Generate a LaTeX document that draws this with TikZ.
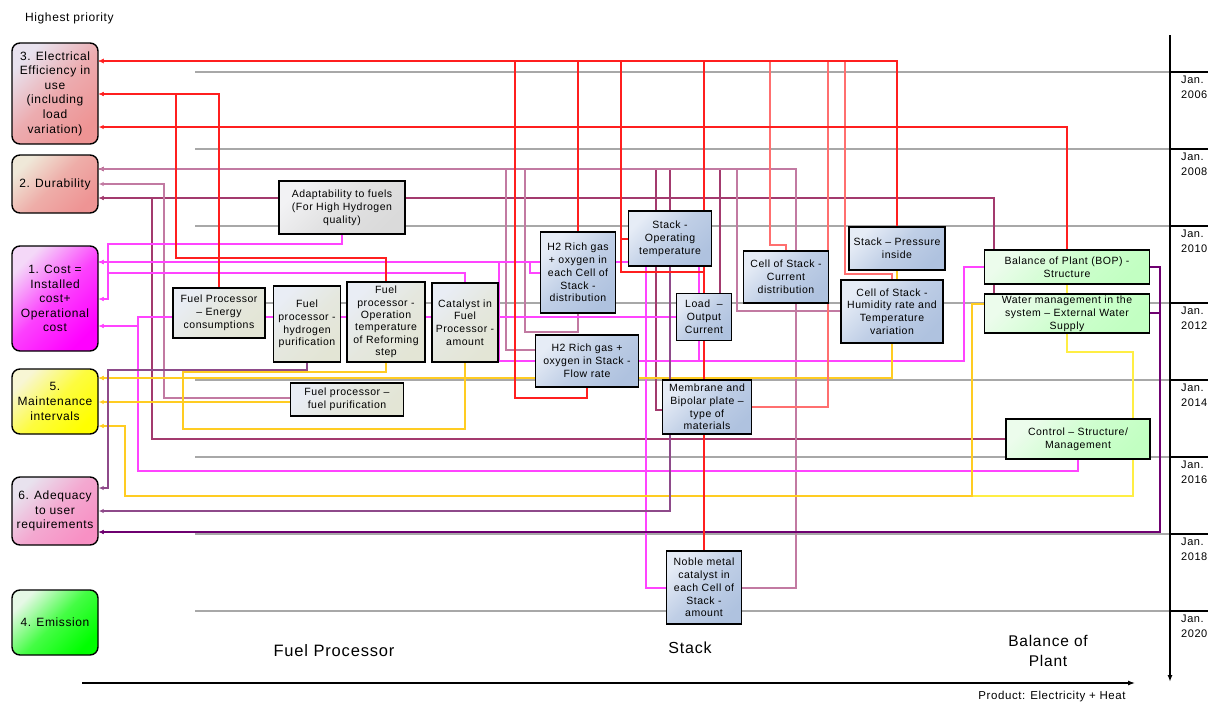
\documentclass[tikz,border=0pt]{standalone}
\usepackage{fontspec}
\setmainfont{Liberation Sans}[LetterSpace=5]
\usepackage{tikz}
\usetikzlibrary{arrows.meta}

\definecolor{redc}{HTML}{FF1F1F}
\definecolor{redlt}{HTML}{FF6F6F}
\definecolor{mauvec}{HTML}{A33A6E}
\definecolor{mauvelt}{HTML}{C27AA2}
\definecolor{magc}{HTML}{FF44FF}
\definecolor{yelc}{HTML}{FFCC22}
\definecolor{yellt}{HTML}{FFEE44}
\definecolor{purpc}{HTML}{6E0070}
\definecolor{purpm}{HTML}{8E4A8A}
\definecolor{gridc}{HTML}{A8A8A8}

\definecolor{fptop}{HTML}{E9EDF5}
\definecolor{fpbot}{HTML}{E3E5D5}
\definecolor{adtop}{HTML}{F2F2F4}
\definecolor{adbot}{HTML}{DADADA}
\definecolor{sttop}{HTML}{E6ECF6}
\definecolor{stbot}{HTML}{AFC2DF}
\definecolor{boptop}{HTML}{ECFCEC}
\definecolor{bopbot}{HTML}{C2FFC2}
\definecolor{efftop}{HTML}{E8E2EE}
\definecolor{effbot}{HTML}{EE9494}
\definecolor{durtop}{HTML}{EFE8D8}
\definecolor{costtop}{HTML}{F4D8F8}
\definecolor{costbot}{HTML}{FF00FF}
\definecolor{mnttop}{HTML}{F8F6D4}
\definecolor{mntbot}{HTML}{FFFF00}
\definecolor{adebot}{HTML}{F890C4}
\definecolor{emitop}{HTML}{E6F8E6}
\definecolor{emibot}{HTML}{00FF00}

\pgfdeclarelayer{bg}
\pgfsetlayers{bg,main}

\tikzset{
	prio/.style={draw, line width=1.4pt, rounded corners=8pt, minimum width=86pt, align=center, inner sep=1pt, font=\fontsize{12}{14.6}\selectfont},
	part/.style={draw, line width=1.8pt, align=center, inner sep=1pt, font=\fontsize{10.5}{12.8}\selectfont},
	dims/.style 2 args={minimum width=#1, minimum height=#2},
	tint/.style 2 args={top color=#1, bottom color=#2, middle color=#2!70!#1, shading angle=45},
	fpbox/.style={part, tint={fptop}{fpbot}},
	adbox/.style={part, tint={adtop}{adbot}},
	stbox/.style={part, tint={sttop}{stbot}},
	bopbox/.style={part, tint={boptop}{bopbot}},
	link/.style={line width=1.3pt, -{Latex[length=5pt,width=4.5pt]}},
	plain/.style={line width=1.3pt},
	grid/.style={gridc, line width=1.3pt},
	yearlab/.style={anchor=north west, align=left, inner sep=0pt, font=\fontsize{11}{14.5}\selectfont},
}

\begin{document}
\begin{tikzpicture}[x=1pt, y=-1pt]
	\useasboundingbox (0,0) rectangle (1208,702);

	\node[anchor=west, inner sep=0pt, font=\fontsize{12}{13}\selectfont] (hp) at (25,18) {Highest priority};

	% priorities
	\node[prio, dims={86pt}{101pt}, tint={efftop}{effbot}] (eff) at (55,93.5) {3. Electrical\\Efficiency in\\use\\(including\\load\\variation)};
	\node[prio, dims={86pt}{58pt}, tint={durtop}{effbot}] (dur) at (55,184) {2. Durability};
	\node[prio, dims={86pt}{105pt}, tint={costtop}{costbot}] (cost) at (55,298.5) {1. Cost =\\Installed\\cost+\\Operational\\cost};
	\node[prio, dims={86pt}{65pt}, tint={mnttop}{mntbot}] (maint) at (55,401.5) {5.\\Maintenance\\intervals};
	\node[prio, dims={86pt}{68pt}, tint={efftop}{adebot}] (ade) at (55,511) {6. Adequacy\\to user\\requirements};
	\node[prio, dims={86pt}{65pt}, tint={emitop}{emibot}] (emis) at (55,622.5) {4. Emission};

	% fuel processor
	\node[adbox, dims={126pt}{53pt}] (adapt) at (342,207.5) {Adaptability to fuels\\(For High Hydrogen\\quality)};
	\node[fpbox, dims={92pt}{50pt}] (energy) at (219,313) {Fuel Processor\\– Energy\\consumptions};
	\node[fpbox, dims={67pt}{76pt}] (hpur) at (307,324) {Fuel\\processor -\\hydrogen\\purification};
	\node[fpbox, dims={78pt}{80pt}, font=\fontsize{10.5}{12.4}\selectfont] (optemp) at (386,322) {Fuel\\processor -\\Operation\\temperature\\of Reforming\\step};
	\node[fpbox, dims={66pt}{79pt}] (catal) at (465,322.5) {Catalyst in\\Fuel\\Processor -\\amount};
	\node[fpbox, dims={113pt}{33pt}] (fuelpur) at (347,399.5) {Fuel processor –\\fuel purification};

	% stack
	\node[stbox, dims={75pt}{81pt}] (h2cell) at (578,272.5) {H2 Rich gas\\+ oxygen in\\each Cell of\\Stack -\\distribution};
	\node[stbox, dims={83pt}{55pt}] (stacktemp) at (670,238.5) {Stack -\\Operating\\temperature};
	\node[stbox, dims={103pt}{52pt}] (h2flow) at (587,361) {H2 Rich gas +\\oxygen in Stack -\\Flow rate};
	\node[stbox, dims={55pt}{47pt}] (load) at (704,317) {Load~ –\\Output\\Current};
	\node[stbox, dims={89pt}{54pt}] (membr) at (707,407) {Membrane and\\Bipolar plate –\\type of\\materials};
	\node[stbox, dims={85pt}{52pt}] (curdist) at (786,277) {Cell of Stack -\\Current\\distribution};
	\node[stbox, dims={96pt}{43pt}] (press) at (897,248.5) {Stack – Pressure\\inside};
	\node[stbox, dims={102pt}{63pt}] (humid) at (892,311.5) {Cell of Stack -\\Humidity rate and\\Temperature\\variation};
	\node[stbox, dims={75pt}{73pt}] (noble) at (704,587.5) {Noble metal\\catalyst in\\each Cell of\\Stack -\\amount};

	% balance of plant
	\node[bopbox, dims={165pt}{34pt}] (bop) at (1067,267) {Balance of Plant (BOP) -\\Structure};
	\node[bopbox, dims={165pt}{39pt}] (water) at (1067,313.5) {Water management in the\\system – External Water\\Supply};
	\node[bopbox, dims={144pt}{40pt}] (control) at (1078,439) {Control – Structure/\\Management};

	\node[font=\fontsize{16.5}{18}\selectfont] (fplab) at (334,651) {Fuel Processor};
	\node[font=\fontsize{16}{18}\selectfont] (stlab) at (690,648) {Stack};
	\node[align=center, font=\fontsize{15.5}{20}\selectfont] (boplab) at (1048,651) {Balance of\\Plant};
	\node[font=\fontsize{11.5}{12}\selectfont] (prodlab) at (1052,697) {Product: Electricity + Heat};

	% time axis
	\node[yearlab] (t06) at (1181,76) {Jan.\\2006};
	\node[yearlab] (t08) at (1181,153) {Jan.\\2008};
	\node[yearlab] (t10) at (1181,230) {Jan.\\2010};
	\node[yearlab] (t12) at (1181,307) {Jan.\\2012};
	\node[yearlab] (t14) at (1181,384) {Jan.\\2014};
	\node[yearlab] (t16) at (1181,461) {Jan.\\2016};
	\node[yearlab] (t18) at (1181,538) {Jan.\\2018};
	\node[yearlab] (t20) at (1181,615) {Jan.\\2020};
	\draw[line width=1.5pt, -{Latex[length=7pt,width=5pt]}] (1170,35) -- (1170,682);
	\draw[line width=1.2pt, -{Latex[length=7pt,width=5pt]}] (82,683) -- (1135,683);

	\begin{pgfonlayer}{bg}
		\draw[grid] (195,72) -- (1170,72);
		\draw[grid] (195,149) -- (1170,149);
		\draw[grid] (195,226) -- (1170,226);
		\draw[grid] (195,303) -- (1170,303);
		\draw[grid] (195,380) -- (1170,380);
		\draw[grid] (195,457) -- (1170,457);
		\draw[grid] (195,534) -- (1170,534);
		\draw[grid] (195,611) -- (1170,611);
		\draw[line width=1.2pt] (1170,72) -- (1208,72);
		\draw[line width=1.2pt] (1170,149) -- (1208,149);
		\draw[line width=1.2pt] (1170,226) -- (1208,226);
		\draw[line width=1.2pt] (1170,303) -- (1208,303);
		\draw[line width=1.2pt] (1170,380) -- (1208,380);
		\draw[line width=1.2pt] (1170,457) -- (1208,457);
		\draw[line width=1.2pt] (1170,534) -- (1208,534);
		\draw[line width=1.2pt] (1170,611) -- (1208,611);

		% to 2. durability
		\draw[link, mauvec] (water.north -| 994,0) |- (dur.east |- 0,198);
		\draw[link, mauvec] (control.west) -| (152,198) -- (dur.east |- 0,198);
		\draw[link, mauvelt] (fuelpur.west |- 0,398) -| (164,184) -- (dur.east |- 0,184);
		\draw[link, mauvelt] (h2flow.west |- 0,350) -| (506,169) -- (dur.east |- 0,169);
		\draw[link, mauvelt] (h2cell.south) |- (525,332) -- (525,169) -- (dur.east |- 0,169);
		\draw[link, mauvec] (membr.west |- 0,410) -| (656,169) -- (dur.east |- 0,169);
		\draw[link, mauvec] (stacktemp.north) -- (stacktemp.north |- 0,169) -- (dur.east |- 0,169);
		\draw[link, mauvec] (load.north -| 720,0) -- (720,169) -- (dur.east |- 0,169);
		\draw[link, mauvelt] (humid.west |- 0,311) -| (737,169) -- (dur.east |- 0,169);
		\draw[link, mauvelt] (noble.east |- 0,588) -| (796,169) -- (dur.east |- 0,169);

		% to 1. cost
		\draw[link, magc] (adapt.south) |- (108,244) |- (cost.east |- 0,299);
		\draw[link, magc] (catal.north) |- (108,273) |- (cost.east |- 0,299);
		\draw[link, magc] (stacktemp.west |- 0,262) -- (cost.east |- 0,262);
		\draw[link, magc] (h2cell.west |- 0,273) -| (530,262) -- (cost.east |- 0,262);
		\draw[link, magc] (bop.west) -| (964,361) -| (499,262) -- (cost.east |- 0,262);
		\draw[link, magc] (stacktemp.south -| 699,0) -- (699,361) -| (499,262) -- (cost.east |- 0,262);
		\draw[link, magc] (noble.west |- 0,588) -| (646,262) -- (cost.east |- 0,262);
		\draw[link, magc] (load.west) -| (138,326) -- (cost.east |- 0,326);
		\draw[link, magc] (control.south) |- (138,471) -- (138,326) -- (cost.east |- 0,326);

		% to 5. maintenance
		\draw[link, yelc] (humid.south) |- (maint.east |- 0,378);
		\draw[link, yelc] (catal.south) |- (183,429) |- (maint.east |- 0,378);
		\draw[link, yelc] (optemp.south) |- (183,372) |- (maint.east |- 0,378);
		\draw[link, yelc] (fuelpur.west |- 0,402) -- (maint.east |- 0,402);
		\draw[link, yellt] (water.south) |- (1133,352) |- (125,496) |- (maint.east |- 0,426);
		\draw[link, yelc] (water.west |- 0,304) -| (972,496) -- (125,496) |- (maint.east |- 0,426);
		\draw[plain, yelc] (press.south) -- (press.south |- humid.north);
		\draw[plain, yellt] (bop.south) -- (water.north);

		% to 6. adequacy
		\draw[link, purpm] (hpur.south) |- (108,370) |- (ade.east |- 0,488);
		\draw[link, purpm] (stacktemp.south) |- (ade.east |- 0,511);
		\draw[link, purpc] (bop.east) -| (1160,532) -- (ade.east |- 0,532);
		\draw[link, purpc] (water.east |- 0,313) -| (1160,532) -- (ade.east |- 0,532);

		% to 3. electrical efficiency
		\draw[link, redc] (h2flow.south) |- (515,398) -- (515,61) -- (eff.east |- 0,61);
		\draw[link, redc] (h2cell.north) -- (h2cell.north |- 0,61) -- (eff.east |- 0,61);
		\draw[link, redc] (stacktemp.west |- 0,239) -| (621,61) -- (eff.east |- 0,61);
		\draw[link, redc] (load.north) |- (621,272) -- (621,61) -- (eff.east |- 0,61);
		\draw[link, redc] (noble.north) -- (noble.north |- 0,61) -- (eff.east |- 0,61);
		\draw[link, redlt] (curdist.north) |- (770,245) -- (770,61) -- (eff.east |- 0,61);
		\draw[link, redlt] (membr.east |- 0,407) -| (828,61) -- (eff.east |- 0,61);
		\draw[link, redlt] (humid.north) |- (845,274) -- (845,61) -- (eff.east |- 0,61);
		\draw[link, redc] (press.north) -- (press.north |- 0,61) -- (eff.east |- 0,61);
		\draw[link, redc] (energy.north) -- (energy.north |- 0,94) -- (eff.east |- 0,94);
		\draw[link, redc] (optemp.north) |- (176,258) -- (176,94) -- (eff.east |- 0,94);
		\draw[link, redc] (bop.north) |- (eff.east |- 0,127);
	\end{pgfonlayer}
\end{tikzpicture}
\end{document}
